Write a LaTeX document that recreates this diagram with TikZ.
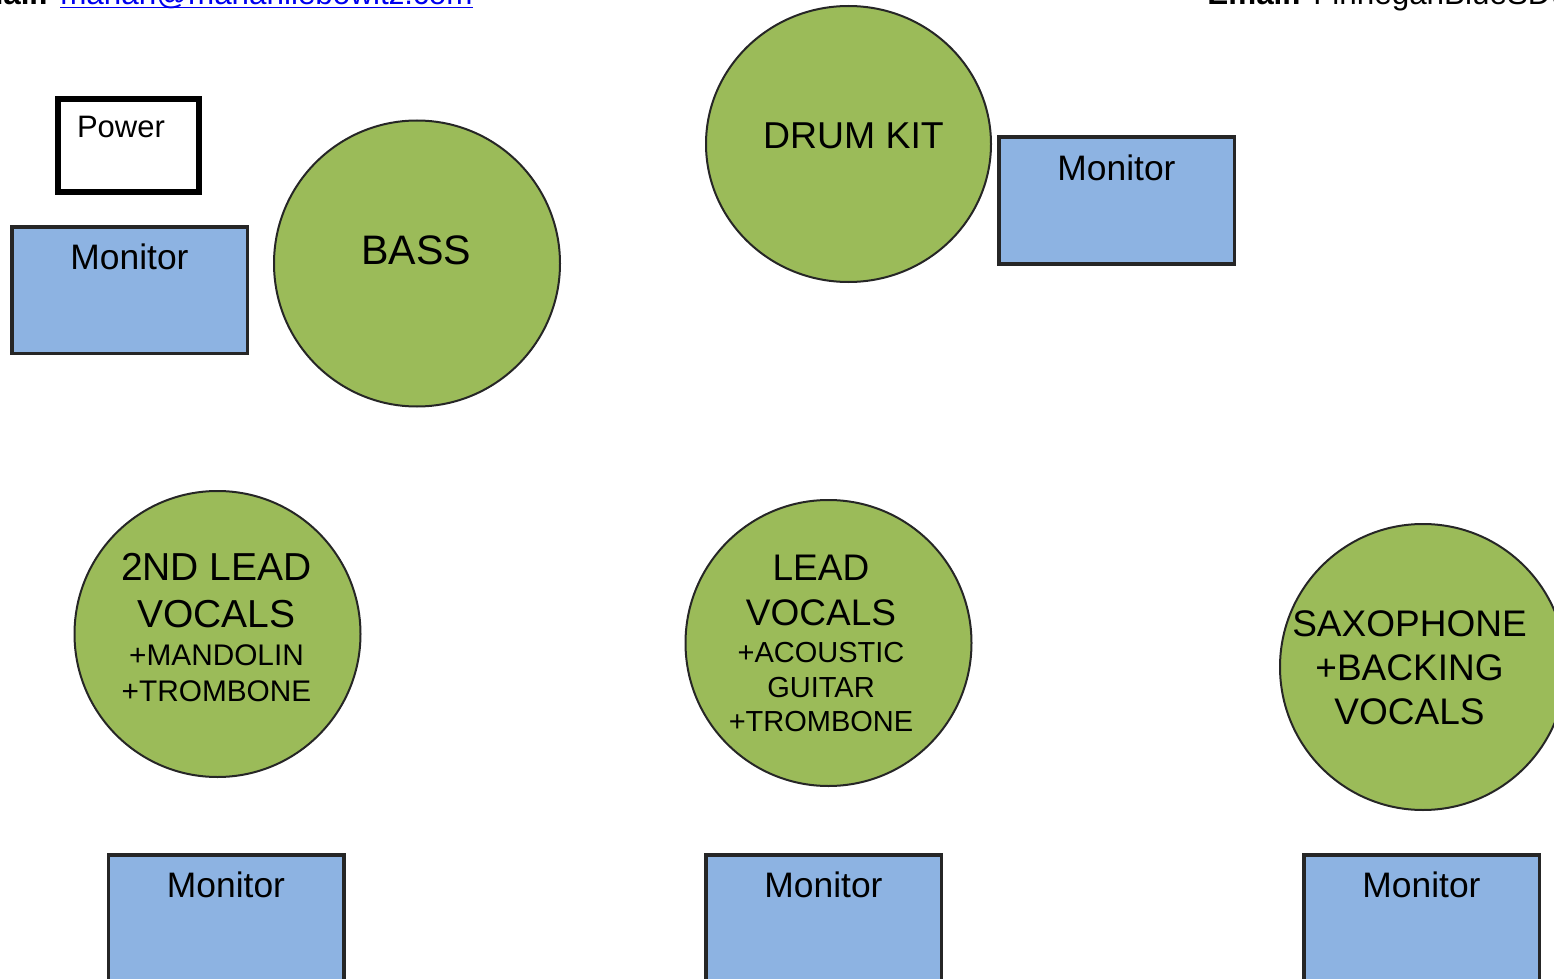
\documentclass[tikz,border=0pt]{standalone}
\usepackage{fontspec}
\setmainfont{Liberation Sans}
\usepackage{tikz}
\usetikzlibrary{shapes.geometric}

\definecolor{stagegreen}{RGB}{155,187,89}
\definecolor{monblue}{RGB}{141,179,226}
\definecolor{linkblue}{RGB}{0,0,238}

\newcommand\bigtxt{\fontsize{18.5}{22.5}\selectfont}
\newcommand\smalltxt{\fontsize{14.5}{17.5}\selectfont}
\newcommand\linkul[1]{\setbox0\hbox{#1}\rlap{\rule[-1.6pt]{\wd0}{0.8pt}}\box0}

\begin{document}
\begin{tikzpicture}[
        x=0.5pt, y=-0.5pt,
        player/.style={
            ellipse, draw=black!85, fill=stagegreen, line width=1pt,
            minimum width=143pt, minimum height=143pt, inner sep=0pt
        },
        playertext/.style={inner sep=0pt, align=center, font=\bigtxt},
        monitor/.style={
            rectangle, draw=black!85, fill=monblue, line width=1.75pt,
            minimum width=117.75pt, inner sep=0pt,
            text height=21.5pt, text depth=41.75pt,
            font=\fontsize{17.7}{20}\selectfont
        },
        powerbox/.style={
            rectangle, draw=black, fill=white, line width=3pt,
            inner xsep=9.5pt, inner ysep=0pt, text width=51.5pt, align=left,
            text height=19.5pt, text depth=27pt,
            font=\fontsize{15.5}{18}\selectfont
        },
        header/.style={inner sep=0pt, font=\fontsize{15.7}{18}\selectfont}
    ]

    \useasboundingbox (0,0) rectangle (1554,979);
    \clip (0,0) rectangle (1554,979);

    % --- Header (cut off at the top) ---
    \node[header, anchor=base east] (mailleft) at (473,5)
        {\textbf{Email:} {\color{linkblue}\linkul{marian@marianliebowitz.com}}};
    \node[header, anchor=base west] (mailright) at (1207,5)
        {\textbf{Email:} FinneganBlueSD@marianliebowitz.com};

    % --- Back line ---
    \node[powerbox] (power) at (128.5,145.5) {Power};
    \node[monitor] (monbass) at (129.5,290) {Monitor};
    \node[player] (bass) at (417,263.5) {};
    \node[playertext, font=\fontsize{20.6}{24}\selectfont] (basstext) at (416,250) {BASS};
    \node[player, minimum width=142.5pt, minimum height=138pt] (drums) at (848.5,144) {};
    \node[playertext, font=\fontsize{18.7}{22}\selectfont] (drumstext) at (853.5,136) {DRUM KIT};
    \node[monitor] (mondrums) at (1116.5,200.5) {Monitor};

    % --- Front line ---
    \node[player] (second) at (217.5,634) {};
    \node[playertext, font=\fontsize{19.5}{23.5}\selectfont] (secondtext) at (216.5,628) {
        2ND LEAD\\
        VOCALS\\[-4.5pt]
        {\fontsize{14.9}{17.5}\selectfont +MANDOLIN}\\[-5.5pt]
        {\fontsize{14.9}{17.5}\selectfont +TROMBONE}
    };
    \node[player] (lead) at (828.5,643) {};
    \node[playertext] (leadtext) at (821,643) {
        LEAD\\
        VOCALS\\[-4pt]
        {\smalltxt +ACOUSTIC}\\[-5pt]
        {\smalltxt GUITAR}\\[-5.5pt]
        {\smalltxt +TROMBONE}
    };
    \node[player] (sax) at (1423,667) {};
    \node[playertext] (saxtext) at (1409.5,667.5) {
        SAXOPHONE\\[-0.5pt]
        +BACKING\\[-0.5pt]
        VOCALS
    };

    % --- Wedges ---
    \node[monitor] (monsecond) at (226,918) {Monitor};
    \node[monitor] (monlead) at (823.5,918) {Monitor};
    \node[monitor] (monsax) at (1421.5,918) {Monitor};

\end{tikzpicture}
\end{document}
